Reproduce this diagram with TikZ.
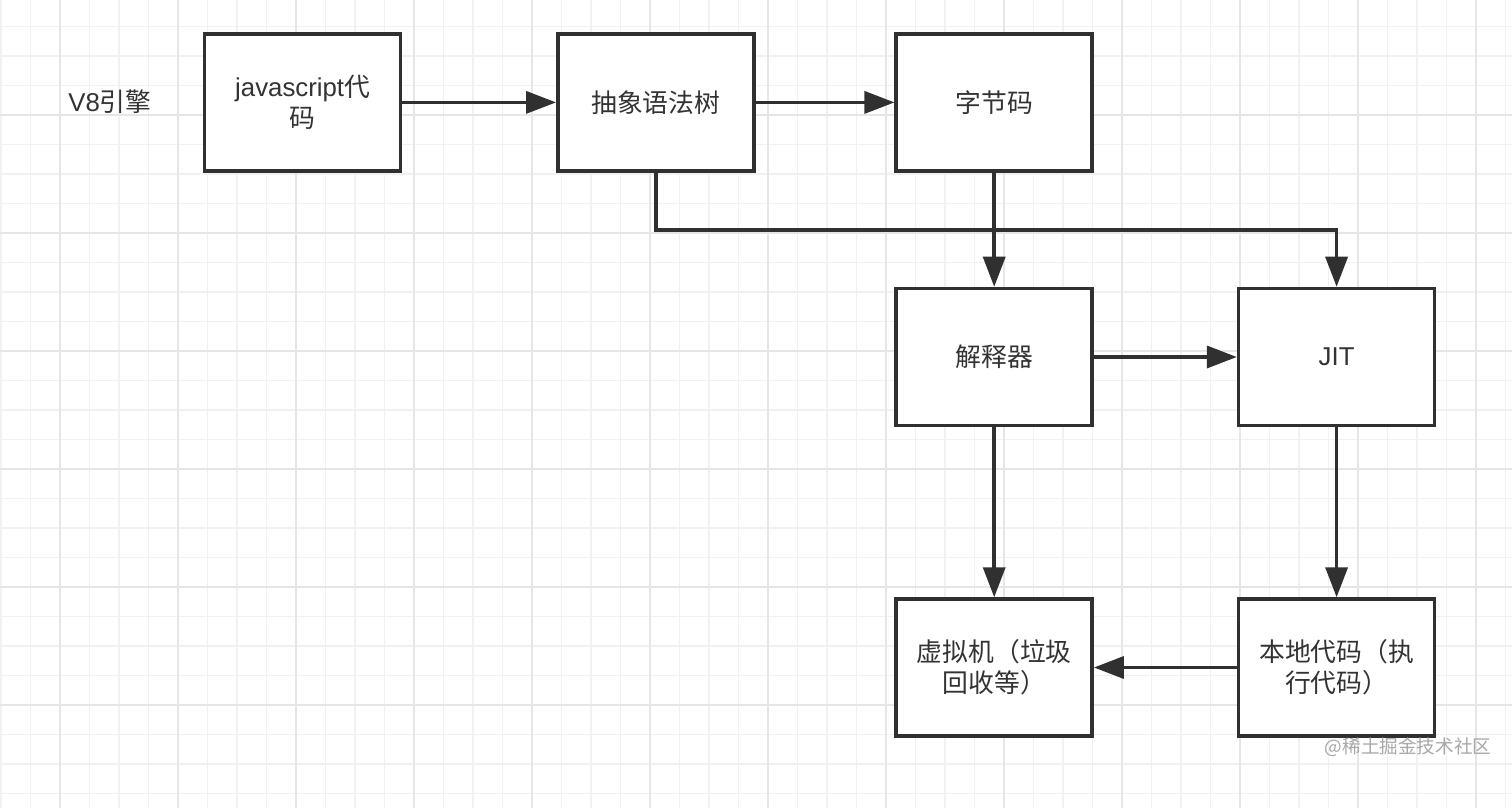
\documentclass[tikz,border=0pt]{standalone}
\usepackage{fontspec}
\setmainfont{Liberation Sans}
\newfontfamily\cjk{Noto Sans CJK SC}
\usetikzlibrary{arrows.meta}
\definecolor{ink}{HTML}{303030}
\definecolor{txt}{HTML}{333333}
\definecolor{gminor}{HTML}{F1F1F1}
\definecolor{gmajor}{HTML}{E6E6E6}
\definecolor{wm}{HTML}{A8A8A8}
\begin{document}
\begin{tikzpicture}[x=0.5pt,y=-0.5pt,
  minorline/.style={draw=gminor,line width=0.6pt},
  majorline/.style={draw=gmajor,line width=0.9pt},
  box/.style={draw=ink,line width=1.75pt,fill=white,minimum width=98pt,minimum height=68.5pt,
    inner sep=0pt,align=center,text=txt,font=\fontsize{12.9pt}{15.5pt}\selectfont},
  lbl/.style={text=txt,font=\fontsize{12.9pt}{15.5pt}\selectfont,inner sep=0pt},
  arr/.style={draw=ink,line width=1.75pt,-{Triangle[length=15pt,width=11pt]}},
  link/.style={draw=ink,line width=1.75pt}
]
\useasboundingbox (0,0) rectangle (1512,808);
\fill[white] (0,0) rectangle (1512,808);
% grid
\foreach \k in {-2,...,49} {
  \draw[minorline] ({60+29.5*\k},0) -- ({60+29.5*\k},808);
}
\foreach \k in {1,...,27} {
  \draw[minorline] (0,{-3+29.5*\k}) -- (1512,{-3+29.5*\k});
}
\foreach \k in {0,...,12} {
  \draw[majorline] ({60+118*\k},0) -- ({60+118*\k},808);
}
\foreach \k in {1,...,6} {
  \draw[majorline] (0,{-3+118*\k}) -- (1512,{-3+118*\k});
}
% label
\node[lbl] (v8) at (110,102) {V8{\cjk 引擎}};
% boxes
\node[box] (js) at (302.6,102.4) {javascript{\cjk 代}\\{\cjk 码}};
\node[box] (ast) at (655.8,102.4) {\cjk 抽象语法树};
\node[box] (bc) at (994.2,102.4) {\cjk 字节码};
\node[box] (interp) at (994.2,357) {\cjk 解释器};
\node[box] (jit) at (1336.6,357) {JIT};
\node[box] (vm) at (994.2,667.5) {\cjk 虚拟机（垃圾\\\cjk 回收等）};
\node[box] (native) at (1336.6,667.5) {\cjk 本地代码（执\\\cjk 行代码）};
% connectors
\coordinate (bend) at (655.8,230);
\draw[arr] (js) -- (ast);
\draw[arr] (ast) -- (bc);
\draw[arr] (ast.south) -- (bend) -| (jit.north);
\draw[arr] (bc) -- (interp);
\draw[arr] (interp) -- (jit);
\draw[arr] (interp) -- (vm);
\draw[arr] (jit) -- (native);
\draw[arr] (native) -- (vm);
% watermark
\node[text=wm,font=\cjk\fontsize{9.3pt}{11pt}\selectfont,inner sep=0pt] (mark) at (1408,747) {@稀土掘金技术社区};
\end{tikzpicture}
\end{document}
